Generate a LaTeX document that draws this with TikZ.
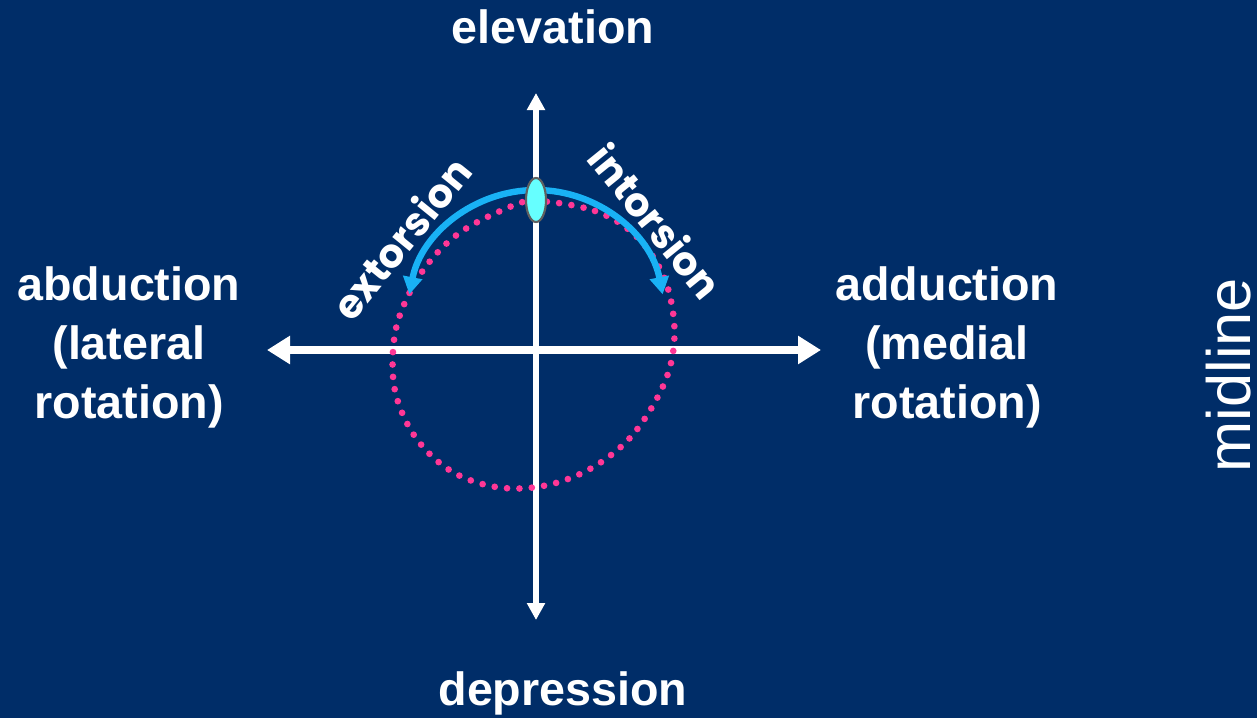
\documentclass[tikz,border=0pt]{standalone}
\usepackage{fontspec}
\setmainfont{Liberation Sans}
\newfontfamily\roundfont{Poppins}
\usetikzlibrary{arrows.meta}

\definecolor{bgblue}{RGB}{0,45,104}
\definecolor{arcblue}{RGB}{25,178,245}
\definecolor{dotpink}{RGB}{255,55,150}
\definecolor{eyecyan}{RGB}{102,255,255}
\definecolor{eyerim}{RGB}{96,96,96}

\tikzset{
  label/.style={text=white, font=\fontsize{35}{44.25}\selectfont\bfseries, inner sep=0pt},
  sidelabel/.style={label, align=center},
  torsion/.style={text=white, font=\roundfont\fontsize{30}{34}\selectfont\bfseries, inner sep=0pt},
  haxis/.style={draw=white, line width=5.6pt,
    {Triangle[width=20.25pt,length=17.25pt]}-{Triangle[width=20.25pt,length=17.25pt]}},
  vaxis/.style={draw=white, line width=4.5pt,
    {Triangle[width=13pt,length=12.75pt]}-{Triangle[width=13pt,length=12.75pt]}},
  rotarc/.style={draw=arcblue, line width=4.8pt, -{Triangle[width=14pt,length=13pt]}},
  dotcurve/.style={draw=dotpink, line width=5pt, line cap=round, dash pattern=on 0pt off 9.3pt},
}

\begin{document}
\begin{tikzpicture}[x=0.75pt,y=-0.75pt]
  % backdrop
  \fill[bgblue] (0,0) rectangle (1257,718);
  \useasboundingbox (0,0) rectangle (1257,718);

  % axis end points
  \coordinate (up)    at (536,93);
  \coordinate (down)  at (536,620);
  \coordinate (left)  at (267,350);
  \coordinate (right) at (821,350);

  % axes
  \draw[haxis] (left) -- (right);
  \draw[vaxis] (down) -- (up);

  % path traced by the eye
  \draw[dotcurve] plot[smooth cycle, tension=0.6] coordinates {
    (536,201) (595,211) (636,236) (663,275) (674,321) (671,363)
    (655,402) (627,441) (588,470) (543,486) (496,487) (451,471)
    (416,438) (396,395) (393,351) (401,312) (424,269) (458,234) (505,209)};

  % torsion arcs
  \coordinate (arctop) at (536,190);
  \draw[rotarc] (arctop) arc[start angle=-90, end angle=-169, radius=129];
  \draw[rotarc] (arctop) arc[start angle=-90, end angle=-11, radius=129];

  % eye marker
  \filldraw[fill=eyecyan, draw=eyerim, line width=1.6pt]
    (536,200) ellipse[x radius=10, y radius=22];

  % labels
  \node[label, anchor=base] (elev) at (553,43) {elevation};
  \node[label, anchor=base] (depr) at (563,705) {depression};
  \node[sidelabel] (abd) at (129,347) {abduction\\(lateral\\rotation)};
  \node[sidelabel] (add) at (947,347) {adduction\\(medial\\rotation)};
  \node[torsion, rotate=51] (ext) at (401,238) {extorsion};
  \node[torsion, rotate=-51] (int) at (656,221) {intorsion};
  \node[text=white, font=\fontsize{46}{52}\selectfont, rotate=90, anchor=base, inner sep=0pt]
    (mid) at (1250,375) {midline};
\end{tikzpicture}
\end{document}
